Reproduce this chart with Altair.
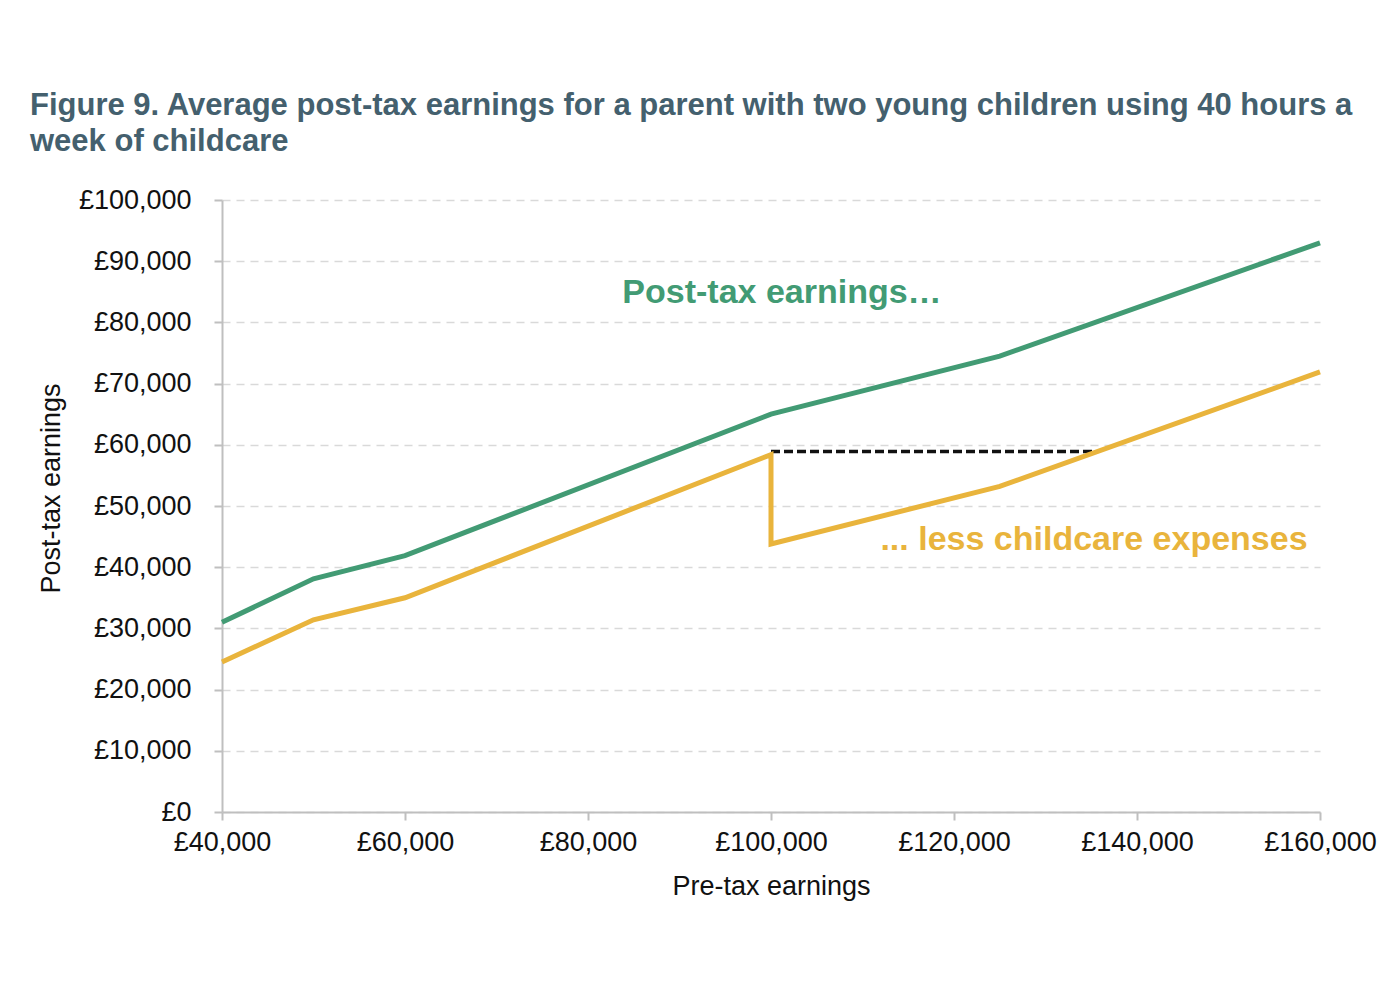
import altair as alt
import pandas as pd

# Post-tax earnings (green)
green_x = [40000, 50000, 60000, 100000, 125000, 160000]
green_y = [31000, 38100, 41900, 65000, 74500, 93000]

# Post-tax earnings less childcare expenses (yellow)
yellow_x = [40000, 50000, 60000, 100000, 100000, 125000, 160000]
yellow_y = [24500, 31400, 35000, 58400, 43800, 53200, 71900]

# Black dashed reference line
ref_x = [100000, 135500]
ref_y = [58900, 58900]

# Annotations
ann_text = ["Post-tax earnings…", "... less childcare expenses"]
ann_x = [101200, 135300]
ann_y = [84800, 44400]
ann_color = ["#429B74", "#E9B43C"]

GREEN = "#429B74"
YELLOW = "#E9B43C"

g = pd.DataFrame({"x": green_x, "y": green_y, "order": range(len(green_x))})
yl = pd.DataFrame({"x": yellow_x, "y": yellow_y, "order": range(len(yellow_x))})
ref = pd.DataFrame({"x": ref_x, "y": ref_y})
ann = pd.DataFrame({"t": ann_text, "x": ann_x, "y": ann_y, "c": ann_color})

xscale = alt.Scale(domain=[40000, 160000], nice=False)
yscale = alt.Scale(domain=[0, 100000], nice=False)

xaxis = alt.Axis(
    values=[40000, 60000, 80000, 100000, 120000, 140000, 160000],
    labelExpr="'£' + format(datum.value, ',')",
    title="Pre-tax earnings",
    grid=False,
    tickSize=8,
    labelPadding=9,
    labelFlush=False,
    titlePadding=18,
)
yaxis = alt.Axis(
    values=list(range(0, 100001, 10000)),
    labelExpr="'£' + format(datum.value, ',')",
    title="Post-tax earnings",
    grid=True,
    gridDash=[8, 6],
    gridColor="#D9D9D9",
    gridWidth=1.5,
    tickSize=8,
    labelPadding=23,
    titlePadding=13,
    titleY=288,
)

base_x = alt.X("x:Q", scale=xscale, axis=xaxis)
base_y = alt.Y("y:Q", scale=yscale, axis=yaxis)

green_line = alt.Chart(g).mark_line(color=GREEN, strokeWidth=5).encode(
    x=base_x, y=base_y, order="order:Q"
)
yellow_line = alt.Chart(yl).mark_line(color=YELLOW, strokeWidth=5).encode(
    x="x:Q", y="y:Q", order="order:Q"
)
ref_line = alt.Chart(ref).mark_line(color="#111111", strokeWidth=3.5, strokeDash=[9, 4]).encode(
    x="x:Q", y="y:Q"
)
labels = alt.Chart(ann).mark_text(fontSize=34, fontWeight="bold", font="Liberation Sans").encode(
    x="x:Q", y="y:Q", text="t:N", color=alt.Color("c:N", scale=None)
)

chart = alt.layer(ref_line, green_line, yellow_line, labels).properties(
    width=1098,
    height=612,
    title=alt.TitleParams(
        text=["Figure 9. Average post-tax earnings for a parent with two young children using 40 hours a",
              "week of childcare"],
        anchor="start",
        frame="group",
        dx=-192,
        offset=28,
        fontSize=31,
        fontWeight="bold",
        color="#44606E",
        font="Liberation Sans",
        lineHeight=36,
    ),
    padding={"left": 214, "top": 192, "right": 60, "bottom": 160},
    autosize=alt.AutoSizeParams(type="none"),
).configure_view(stroke=None).configure_axis(
    domainColor="#BFBFBF",
    domainWidth=2,
    tickColor="#BFBFBF",
    tickWidth=2,
    labelFont="Liberation Sans",
    titleFont="Liberation Sans",
    labelFontSize=27,
    titleFontSize=27,
    labelColor="#111111",
    titleColor="#111111",
    titleFontWeight="normal",
)

chart.save("out.html", embed_options={"renderer": "svg", "actions": False})
